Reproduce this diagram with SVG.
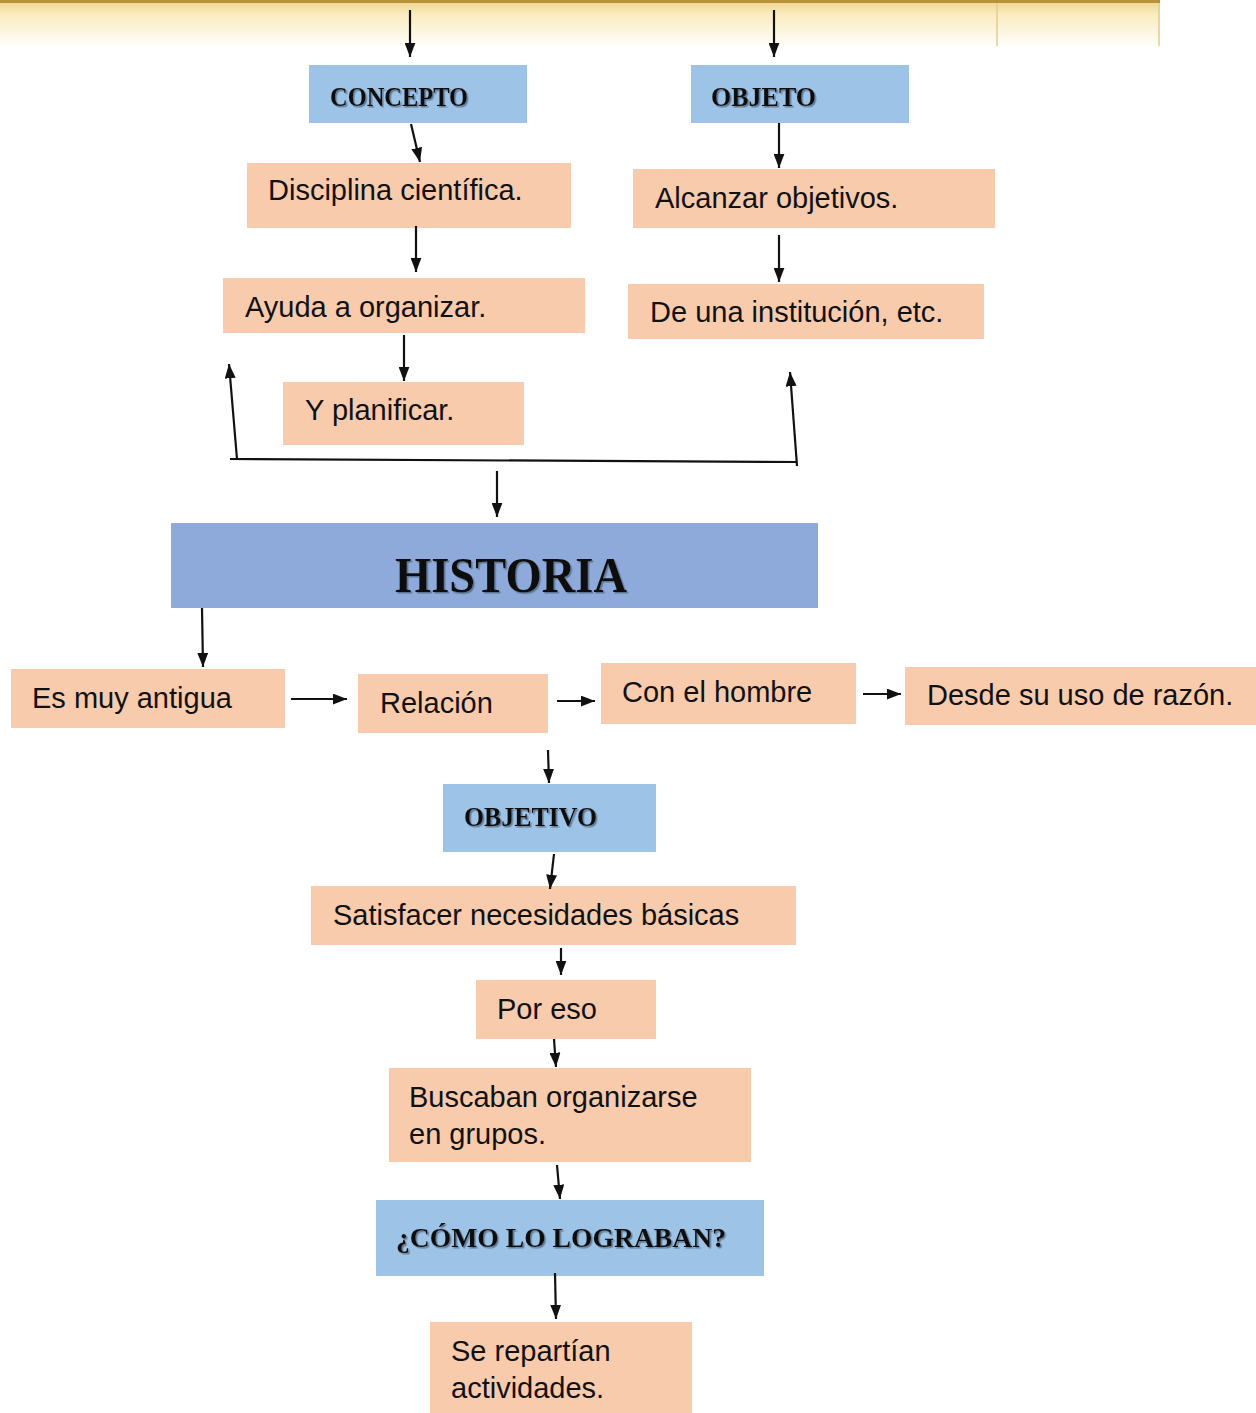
<svg xmlns="http://www.w3.org/2000/svg" width="1256" height="1413" viewBox="0 0 1256 1413">
<defs>
<linearGradient id="band" x1="0" y1="0" x2="0" y2="1">
<stop offset="0" stop-color="#efd48a"/>
<stop offset="0.3" stop-color="#faecbf"/>
<stop offset="1" stop-color="#ffffff"/>
</linearGradient>
<marker id="ah" viewBox="0 0 10 10" refX="10" refY="5" markerWidth="6.5" markerHeight="5" orient="auto" markerUnits="strokeWidth" preserveAspectRatio="none">
<path d="M0,0 L10,5 L0,10 z" fill="#111"/>
</marker>
<filter id="sh" x="-5%" y="-20%" width="110%" height="140%">
<feDropShadow dx="1.5" dy="1.5" stdDeviation="0.4" flood-color="#5a6f8a" flood-opacity="0.9"/>
</filter>
</defs>
<style>
.p{fill:#f8cbad}
.b{fill:#9dc3e6}
.h{fill:#8eaadb}
.t{font-family:"Liberation Sans",Arial,sans-serif;font-size:29px;fill:#111}
.d{font-family:"Liberation Serif","DejaVu Serif",serif;font-weight:bold;fill:#111;filter:url(#sh)}
.c{stroke:#111;stroke-width:2.2;fill:none;marker-end:url(#ah)}
.l{stroke:#111;stroke-width:2.2;fill:none}
</style>
<g id="header-band">
<rect x="0" y="0" width="1160" height="48" fill="url(#band)"/>
<rect x="0" y="0" width="1160" height="3" fill="#b8913a"/>
<line x1="997" y1="3" x2="997" y2="46" stroke="#e3cd93" stroke-width="1.5"/>
<line x1="1159" y1="3" x2="1159" y2="46" stroke="#e3cd93" stroke-width="1.5"/>
</g>
<g id="concepto"><rect class="b" x="309" y="65" width="218" height="58"/><text class="d" x="330" y="106" font-size="27" textLength="138" lengthAdjust="spacingAndGlyphs">CONCEPTO</text></g>
<g id="objeto"><rect class="b" x="691" y="65" width="218" height="58"/><text class="d" x="711" y="106" font-size="27" textLength="105" lengthAdjust="spacingAndGlyphs">OBJETO</text></g>
<g id="disciplina"><rect class="p" x="247" y="163" width="324" height="65"/><text class="t" x="268" y="200">Disciplina científica.</text></g>
<g id="alcanzar"><rect class="p" x="633" y="169" width="362" height="59"/><text class="t" x="655" y="208">Alcanzar objetivos.</text></g>
<g id="ayuda"><rect class="p" x="223" y="278" width="362" height="55"/><text class="t" x="245" y="317">Ayuda a organizar.</text></g>
<g id="institucion"><rect class="p" x="628" y="284" width="356" height="55"/><text class="t" x="650" y="322">De una institución, etc.</text></g>
<g id="planificar"><rect class="p" x="283" y="382" width="241" height="63"/><text class="t" x="305" y="420">Y planificar.</text></g>
<g id="historia"><rect class="h" x="171" y="523" width="647" height="85"/><text class="d" x="395" y="592" font-size="50" textLength="232" lengthAdjust="spacingAndGlyphs">HISTORIA</text></g>
<g id="antigua"><rect class="p" x="11" y="669" width="274" height="59"/><text class="t" x="32" y="708">Es muy antigua</text></g>
<g id="relacion"><rect class="p" x="358" y="674" width="190" height="59"/><text class="t" x="380" y="713">Relación</text></g>
<g id="hombre"><rect class="p" x="601" y="663" width="255" height="61"/><text class="t" x="622" y="702">Con el hombre</text></g>
<g id="razon"><rect class="p" x="905" y="667" width="351" height="58"/><text class="t" x="927" y="705">Desde su uso de razón.</text></g>
<g id="objetivo"><rect class="b" x="443" y="784" width="213" height="68"/><text class="d" x="464" y="826" font-size="27" textLength="133" lengthAdjust="spacingAndGlyphs">OBJETIVO</text></g>
<g id="satisfacer"><rect class="p" x="311" y="886" width="485" height="59"/><text class="t" x="333" y="925">Satisfacer necesidades básicas</text></g>
<g id="poreso"><rect class="p" x="476" y="980" width="180" height="59"/><text class="t" x="497" y="1019">Por eso</text></g>
<g id="buscaban"><rect class="p" x="389" y="1068" width="362" height="94"/><text class="t" x="409" y="1107">Buscaban organizarse</text><text class="t" x="409" y="1144">en grupos.</text></g>
<g id="como"><rect class="b" x="376" y="1200" width="388" height="76"/><text class="d" x="396" y="1247" font-size="28" textLength="330" lengthAdjust="spacingAndGlyphs">¿CÓMO LO LOGRABAN?</text></g>
<g id="repartian"><rect class="p" x="430" y="1322" width="262" height="91"/><text class="t" x="451" y="1361">Se repartían</text><text class="t" x="451" y="1398">actividades.</text></g>
<g id="connectors">
<line class="c" x1="410" y1="10" x2="410" y2="57"/>
<line class="c" x1="774" y1="10" x2="774" y2="57"/>
<line class="c" x1="411" y1="124" x2="420" y2="162"/>
<line class="c" x1="416" y1="226" x2="416" y2="272"/>
<line class="c" x1="779" y1="123" x2="779" y2="168"/>
<line class="c" x1="779" y1="235" x2="779" y2="282"/>
<line class="c" x1="404" y1="335" x2="404" y2="381"/>
<line class="l" x1="230" y1="459" x2="797" y2="462"/>
<line class="c" x1="237" y1="459" x2="229" y2="364"/>
<line class="c" x1="797" y1="466" x2="790" y2="372"/>
<line class="c" x1="497" y1="471" x2="497" y2="517"/>
<line class="c" x1="202" y1="608" x2="203" y2="667"/>
<line class="c" x1="291" y1="699" x2="347" y2="699"/>
<line class="c" x1="557" y1="701" x2="595" y2="701"/>
<line class="c" x1="863" y1="694" x2="901" y2="694"/>
<line class="c" x1="548" y1="750" x2="549" y2="783"/>
<line class="c" x1="554" y1="854" x2="550" y2="889"/>
<line class="c" x1="561" y1="948" x2="561" y2="975"/>
<line class="c" x1="554" y1="1039" x2="556" y2="1067"/>
<line class="c" x1="557" y1="1165" x2="560" y2="1199"/>
<line class="c" x1="555" y1="1273" x2="556" y2="1319"/>
</g>
</svg>
